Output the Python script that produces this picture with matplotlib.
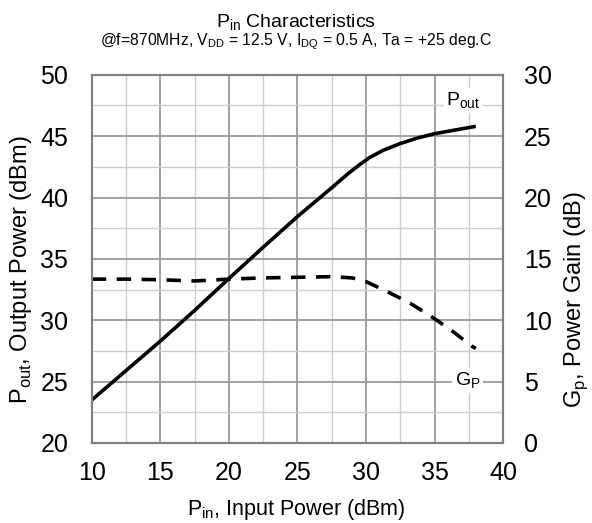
import numpy as np
import matplotlib
matplotlib.use("Agg")
import matplotlib.pyplot as plt
from matplotlib.ticker import MultipleLocator

plt.rcParams['font.family'] = ['Liberation Sans', 'DejaVu Sans']
plt.rcParams['mathtext.fontset'] = 'custom'
plt.rcParams['mathtext.rm'] = 'Liberation Sans'

# Pout vs Pin
pin_pout = [10, 12.5, 15, 17.5, 20, 22.5, 25, 27.5, 28.75, 29.5, 30.25, 31.25, 32.5, 33.75, 35, 36.5, 38]
pout = [23.5, 25.9, 28.3, 30.8, 33.4, 35.95, 38.45, 40.8, 42.0, 42.65, 43.25, 43.85, 44.4, 44.85, 45.2, 45.5, 45.8]

# Gp vs Pin
pin_gp = [10, 12.5, 15, 17.5, 20, 22.5, 25, 27.5, 29, 30, 31.6, 33.2, 34.9, 36.25, 37.7, 38]
gp = [13.35, 13.35, 13.3, 13.2, 13.35, 13.45, 13.5, 13.55, 13.45, 13.15, 12.3, 11.4, 10.2, 9.15, 7.9, 7.7]

fig = plt.figure(figsize=(5.92, 5.23), dpi=100)
ax = fig.add_axes([0.155, 0.153, 0.695, 0.704])
ax2 = ax.twinx()

ax.set_xlim(10, 40)
ax.set_ylim(20, 50)
ax2.set_ylim(0, 30)
ax.xaxis.set_major_locator(MultipleLocator(5))
ax.yaxis.set_major_locator(MultipleLocator(5))
ax.xaxis.set_minor_locator(MultipleLocator(2.5))
ax.yaxis.set_minor_locator(MultipleLocator(2.5))
ax2.yaxis.set_major_locator(MultipleLocator(5))

ax.grid(which='major', color='#9a9a9a', lw=1.3)
ax.grid(which='minor', color='#cccccc', lw=1.0)
ax.set_axisbelow(True)
ax.tick_params(axis='x', which='both', length=0, labelsize=18, pad=13)
ax.tick_params(axis='y', which='both', length=0, labelsize=18, pad=17)
ax2.tick_params(which='both', length=0, labelsize=18, pad=15)
for a in (ax, ax2):
    for s in a.spines.values():
        s.set_color('#808080')
        s.set_linewidth(1.5)

ax.plot(pin_pout, pout, color='black', lw=2.6, solid_capstyle='butt')
ax2.plot(pin_gp, gp, color='black', lw=2.6, ls=(0, (4, 2.9)))

ax.text(37.1, 47.9, r'P$_{\rm out}$', fontsize=14, ha='center', va='center',
        bbox=dict(facecolor='white', edgecolor='none', pad=2))
ax.text(37.4, 25.1, r'G$_{\rm P}$', fontsize=14, ha='center', va='center',
        bbox=dict(facecolor='white', edgecolor='none', pad=2))

fig.text(0.5, 1 - 510 / 523, r'P$_{\rm in}$, Input Power (dBm)', fontsize=15.5,
         ha='center', va='center')
fig.text(21 / 592, 1 - 270 / 523, r'P$_{\rm out}$, Output Power (dBm)', fontsize=17,
         ha='center', va='center', rotation=90)
fig.text(576 / 592, 1 - 300 / 523, r'G$_{\rm p}$, Power Gain (dB)', fontsize=17,
         ha='center', va='center', rotation=90)

fig.text(0.5, 0.956, r'P$_{\rm in}$ Characteristics', fontsize=14, ha='center', va='center')
fig.text(0.5, 0.92, r'@f=870MHz, V$_{\rm DD}$ = 12.5 V, I$_{\rm DQ}$ = 0.5 A, Ta = +25 deg.C',
         fontsize=11.3, ha='center', va='center')

fig.savefig('out.png', dpi=100)
